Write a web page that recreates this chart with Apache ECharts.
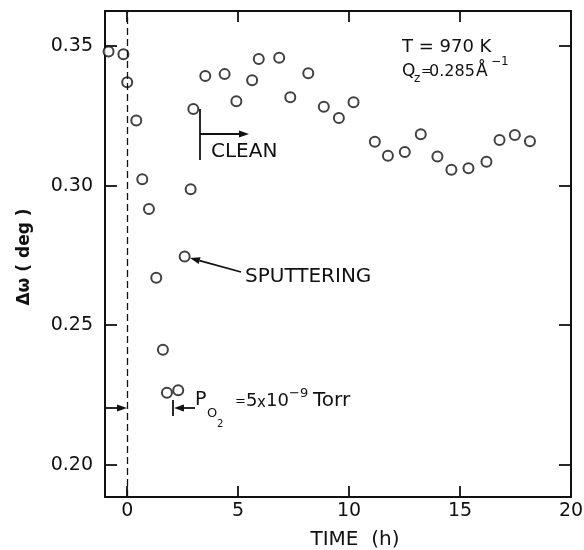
<!DOCTYPE html>
<html>
<head>
<meta charset="utf-8">
<script src="https://cdn.jsdelivr.net/npm/echarts@6/dist/echarts.min.js"></script>
<style>
  html, body { margin: 0; padding: 0; background: #fff; }
  #main { width: 584px; height: 550px; }
</style>
</head>
<body>
<div id="main"></div>
<script>
// time in hours, broadening in degrees
const time = [-0.84, -0.17, 0.0, 0.41, 0.68, 0.98, 1.31, 1.61, 1.79, 2.3, 2.59, 2.86, 2.98,
  3.52, 4.39, 4.92, 5.63, 5.93, 6.85, 7.35, 8.16, 8.86, 9.54, 10.2,
  11.16, 11.75, 12.51, 13.23, 13.98, 14.61, 15.38, 16.19, 16.78, 17.47, 18.15]
const deltaOmega = [0.348, 0.347, 0.337, 0.3233, 0.3023, 0.2916, 0.267, 0.2412, 0.2258, 0.2267, 0.2746, 0.2987, 0.3274,
  0.3392, 0.3399, 0.3302, 0.3377, 0.3453, 0.3458, 0.3316, 0.3402, 0.3282, 0.3242, 0.3298,
  0.3157, 0.3107, 0.312, 0.3184, 0.3104, 0.3057, 0.3062, 0.3085, 0.3163, 0.3181, 0.3159]
const xTicks = [0, 5, 10, 15, 20]
const yTicks = [0.2, 0.25, 0.3, 0.35]
const xRange = [-1, 20]
const yRange = [0.1885, 0.3625]

const ink = '#111'
const font = '"DejaVu Sans"'

function txt(text, x, y, size, extra) {
  return {
    type: 'text',
    style: Object.assign({
      text, x, y, fill: ink,
      font: size + 'px ' + font,
      textAlign: 'left', textVerticalAlign: 'middle',
    }, extra || {}),
  }
}

function line(x1, y1, x2, y2) {
  return { type: 'line', shape: { x1, y1, x2, y2 }, style: { stroke: ink, lineWidth: 1.8 } }
}

function arrow(x1, y1, x2, y2) {
  const a = Math.atan2(y2 - y1, x2 - x1)
  const len = 10, w = 3.5
  const bx = x2 - len * Math.cos(a), by = y2 - len * Math.sin(a)
  const nx = -Math.sin(a) * w, ny = Math.cos(a) * w
  return [
    line(x1, y1, bx, by),
    { type: 'polygon', shape: { points: [[x2, y2], [bx + nx, by + ny], [bx - nx, by - ny]] }, style: { fill: ink } },
  ]
}

const axisBase = {
  type: 'value',
  splitLine: { show: false },
  axisLine: { show: true, onZero: false, lineStyle: { color: ink, width: 2 } },
}

const chart = echarts.init(document.getElementById('main'))
chart.setOption({
  animation: false,
  backgroundColor: '#fff',
  grid: { left: 105, right: 13, top: 11, bottom: 53, outerBoundsMode: 'none' },
  xAxis: [
    Object.assign({}, axisBase, {
      min: xRange[0], max: xRange[1],
      axisTick: { inside: true, length: 11, customValues: xTicks, lineStyle: { color: ink, width: 1.8 } },
      axisLabel: { customValues: xTicks, color: ink, fontFamily: font, fontSize: 19, margin: 5 },
    }),
    Object.assign({}, axisBase, {
      position: 'top', min: xRange[0], max: xRange[1],
      axisTick: { inside: true, length: 11, customValues: xTicks, lineStyle: { color: ink, width: 1.8 } },
      axisLabel: { show: false },
    }),
  ],
  yAxis: [
    Object.assign({}, axisBase, {
      min: yRange[0], max: yRange[1],
      axisTick: { inside: true, length: 12, customValues: yTicks, lineStyle: { color: ink, width: 1.8 } },
      axisLabel: { customValues: yTicks, color: ink, fontFamily: font, fontSize: 19, margin: 12,
        formatter: (v) => v.toFixed(2) },
    }),
    Object.assign({}, axisBase, {
      position: 'right', min: yRange[0], max: yRange[1],
      axisTick: { inside: true, length: 12, customValues: yTicks, lineStyle: { color: ink, width: 1.8 } },
      axisLabel: { show: false },
    }),
  ],
  series: [{
    type: 'scatter',
    data: time.map((t, i) => [t, deltaOmega[i]]),
    symbol: 'circle',
    symbolSize: 10,
    itemStyle: { color: '#fff', borderColor: ink, borderWidth: 2 },
    markLine: {
      silent: true, symbol: 'none', label: { show: false },
      lineStyle: { type: [7, 4], color: ink, width: 1.3 },
      data: [{ xAxis: 0 }],
    },
  }],
  graphic: [
    {
      type: 'text', x: 25, y: 257, rotation: Math.PI / 2,
      style: { text: 'Δω ( deg )', x: 0, y: 0, fill: ink, font: 'bold 17px ' + font,
        textAlign: 'center', textVerticalAlign: 'middle' },
    },
    txt('TIME  (h)', 355, 540, 20, { textAlign: 'center' }),
    txt('T = 970 K', 402, 47, 18),
    txt('Q', 402, 72, 17),
    txt('z', 414, 79, 12),
    txt('=', 421, 72, 13),
    txt('0.285', 429, 72, 16),
    txt('Å', 476, 72, 17),
    txt('−1', 491, 62, 12),
    line(200, 109, 200, 160),
    ...arrow(200, 134, 249, 134),
    txt('CLEAN', 211, 152, 20),
    ...arrow(241, 272, 190, 258),
    txt('SPUTTERING', 245, 277, 20),
    ...arrow(106, 408, 127, 408),
    line(173, 400, 173, 416),
    ...arrow(195, 408, 174, 408),
    txt('P', 195, 400, 19),
    txt('O', 207, 414, 13),
    txt('2', 217, 424, 10),
    txt('=', 235, 402, 13),
    txt('5', 246, 401, 18),
    txt('x', 257, 403, 15),
    txt('10', 266, 401, 18),
    txt('−9', 289, 394, 13),
    txt('Torr', 313, 401, 20),
  ].map((e) => Object.assign({ z: 100 }, e)),
})
</script>
</body>
</html>
